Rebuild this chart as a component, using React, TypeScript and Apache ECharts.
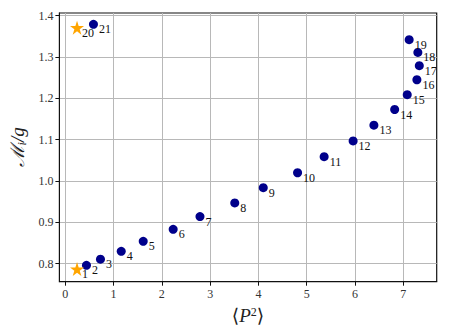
import React, { useEffect, useRef } from "react";
import * as echarts from "echarts";

const dotIds = ["2","3","4","5","6","7","8","9","10","11","12","13","14","15","16","17","18","19","21"];
const dotX = [0.44,0.73,1.16,1.615,2.235,2.79,3.51,4.10,4.81,5.36,5.96,6.39,6.82,7.08,7.28,7.33,7.30,7.12,0.585];
const dotY = [0.796,0.811,0.830,0.854,0.883,0.914,0.947,0.984,1.020,1.059,1.097,1.135,1.173,1.209,1.245,1.279,1.311,1.342,1.379];
const starIds = ["1","20"];
const starX = [0.245,0.245];
const starY = [0.787,1.371];
const xTicks = [0,1,2,3,4,5,6,7];
const yTicks = [0.8,0.9,1.0,1.1,1.2,1.3,1.4];

const FONT = "'Liberation Serif', 'DejaVu Serif', serif";

export default function App() {
  const ref = useRef<HTMLDivElement>(null);
  useEffect(() => {
    const chart = echarts.init(ref.current!, null, { renderer: "svg" });
    const labelStyle = { fontFamily: FONT, fontSize: 12, color: "#111", opacity: 1 };
    chart.setOption({
      animation: false,
      textStyle: { fontFamily: FONT },
      grid: { left: 55, right: 12.3, top: 13, bottom: 54.3, show: true, borderColor: "#111", borderWidth: 1.2, backgroundColor: "transparent" },
      xAxis: {
        type: "value", min: -0.12, max: 7.69, splitNumber: 8,
        axisLine: { show: true, onZero: false, lineStyle: { color: "#111" } },
        axisTick: { show: true, length: 4, customValues: xTicks, lineStyle: { color: "#111" } },
        axisLabel: { customValues: xTicks, fontFamily: FONT, fontSize: 12, color: "#333", margin: 6 },
        splitLine: { show: true, lineStyle: { color: "#b8b8b8", width: 1 } },
        name: "⟨{i|P}{s|2}⟩", nameLocation: "middle", nameGap: 24,
        nameTextStyle: { fontFamily: FONT, fontSize: 19, color: "#222", rich: { i: { fontFamily: FONT, fontStyle: "italic", fontSize: 19, color: "#222" }, s: { fontFamily: FONT, fontSize: 12, color: "#222", verticalAlign: "top", padding: [0, 0, 8, 0] } } },
      },
      yAxis: {
        type: "value", min: 0.7564, max: 1.4065, splitNumber: 7,
        axisLine: { show: true, onZero: false, lineStyle: { color: "#111" } },
        axisTick: { show: true, length: 4, customValues: yTicks, lineStyle: { color: "#111" } },
        axisLabel: { customValues: yTicks, fontFamily: FONT, fontSize: 12, color: "#333", margin: 6, formatter: (v: number) => v.toFixed(1) },
        splitLine: { show: true, lineStyle: { color: "#b8b8b8", width: 1 } },
        name: "{m|ℳ}{s|i}{m|/g}", nameLocation: "middle", nameGap: 27,
        nameTextStyle: { fontFamily: FONT, fontSize: 19, color: "#222", rich: { m: { fontFamily: FONT, fontStyle: "italic", fontSize: 19, color: "#222" }, s: { fontFamily: FONT, fontStyle: "italic", fontSize: 12, color: "#222", padding: [8, 0, 0, 0] } } },
      },
      series: [
        {
          type: "scatter", symbol: "circle", symbolSize: 9,
          itemStyle: { color: "#00008b", opacity: 1 },
          data: dotX.map((x, i) => ({ name: dotIds[i], value: [x, dotY[i]] })),
          label: { show: true, formatter: "{b}", position: "right", distance: 0, offset: [1, 5], ...labelStyle },
          z: 3,
        },
        {
          type: "scatter", symbol: "path://M50,0 L61.2,34.5 L97.6,34.5 L68.2,55.9 L79.4,90.5 L50,69.1 L20.6,90.5 L31.8,55.9 L2.4,34.5 L38.8,34.5 Z",
          symbolSize: 14,
          itemStyle: { color: "#ffa500", opacity: 1 },
          data: starX.map((x, i) => ({ name: starIds[i], value: [x, starY[i]] })),
          label: { show: true, formatter: "{b}", position: "right", distance: 0, offset: [-2, 5], ...labelStyle },
          z: 3,
        },
      ],
    });
    return () => chart.dispose();
  }, []);
  return <div ref={ref} style={{ width: 449, height: 336, position: "absolute", left: 0, top: 0 }} />;
}
